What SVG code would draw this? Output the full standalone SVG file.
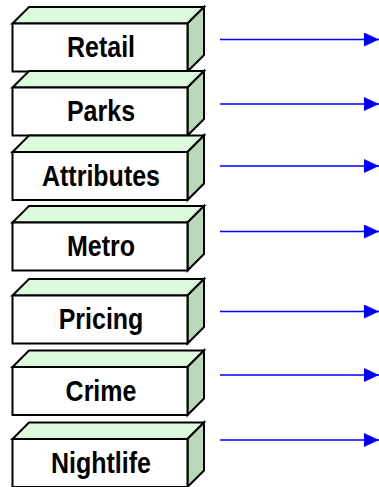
<svg xmlns="http://www.w3.org/2000/svg" width="379" height="487" viewBox="0 0 379 487">
  <style>
    .front { fill: #ffffff; stroke: #000000; stroke-width: 2; stroke-linejoin: miter; }
    .top { fill: #dcfadc; stroke: #000000; stroke-width: 2; stroke-linejoin: miter; }
    .side { fill: #b9d9b9; stroke: #000000; stroke-width: 2; stroke-linejoin: miter; }
    .label { font-family: "Liberation Sans", Arial, sans-serif; font-weight: bold; font-size: 25px; fill: #000000; text-anchor: middle; }
    .arrow { stroke: #0000ff; stroke-width: 1.6; fill: none; }
  </style>
  <defs>
    <!-- 3D box: front face 175x48, receding depth 16.5 -->
    <g id="box">
      <polygon class="top" points="12.5,0 29,-16.5 204,-16.5 187.5,0"/>
      <polygon class="side" points="187.5,0 204,-16.5 204,31.5 187.5,48"/>
      <rect class="front" x="12.5" y="0" width="175" height="48"/>
    </g>
    <marker id="head" markerUnits="userSpaceOnUse" markerWidth="15" markerHeight="14" refX="15" refY="7" orient="auto">
      <path d="M0,0 L15,7 L0,14 z" fill="#0000ff"/>
    </marker>
  </defs>

  <g id="node-retail" transform="translate(0,23.5)">
    <use href="#box"/>
    <text class="label" transform="translate(101,33.5) scale(1,1.2)">Retail</text>
  </g>
  <g id="node-parks" transform="translate(0,87.5)">
    <use href="#box"/>
    <text class="label" transform="translate(101,33.5) scale(1,1.2)">Parks</text>
  </g>
  <g id="node-attributes" transform="translate(0,152)">
    <use href="#box"/>
    <text class="label" transform="translate(101,33.5) scale(1,1.2)">Attributes</text>
  </g>
  <g id="node-metro" transform="translate(0,222.5)">
    <use href="#box"/>
    <text class="label" transform="translate(101,33.5) scale(1,1.2)">Metro</text>
  </g>
  <g id="node-pricing" transform="translate(0,295.5)">
    <use href="#box"/>
    <text class="label" transform="translate(101,33.5) scale(1,1.2)">Pricing</text>
  </g>
  <g id="node-crime" transform="translate(0,367)">
    <use href="#box"/>
    <text class="label" transform="translate(101,33.5) scale(1,1.2)">Crime</text>
  </g>
  <g id="node-nightlife" transform="translate(0,439)">
    <use href="#box"/>
    <text class="label" transform="translate(101,33.5) scale(1,1.2)">Nightlife</text>
  </g>

  <g id="connectors">
    <line class="arrow" x1="220" y1="39.5" x2="379" y2="39.5" marker-end="url(#head)"/>
    <line class="arrow" x1="220" y1="104" x2="379" y2="104" marker-end="url(#head)"/>
    <line class="arrow" x1="220" y1="166" x2="379" y2="166" marker-end="url(#head)"/>
    <line class="arrow" x1="220" y1="231.5" x2="379" y2="231.5" marker-end="url(#head)"/>
    <line class="arrow" x1="220" y1="311.5" x2="379" y2="311.5" marker-end="url(#head)"/>
    <line class="arrow" x1="220" y1="375" x2="379" y2="375" marker-end="url(#head)"/>
    <line class="arrow" x1="220" y1="440" x2="379" y2="440" marker-end="url(#head)"/>
  </g>
</svg>
